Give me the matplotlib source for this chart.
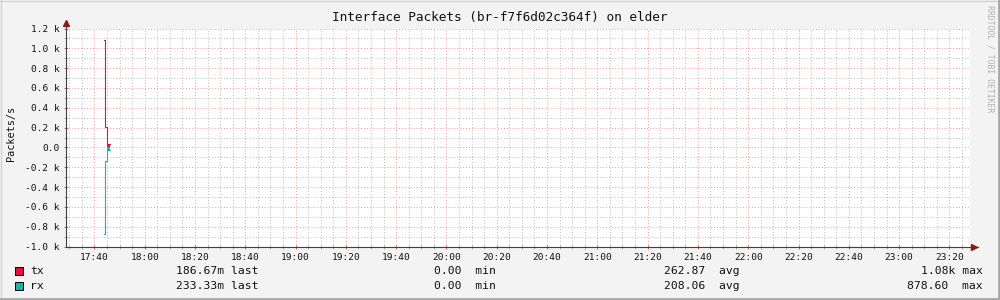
import numpy as np
import matplotlib
matplotlib.use("Agg")
import matplotlib.pyplot as plt
from matplotlib.lines import Line2D
from matplotlib.patches import Rectangle

## data (x = minutes after 17:40)
times = [3.9, 4.35, 5.2, 6.2]
tx = [1083, 210, 30]
rx = [-878.6, -140, -30]
tick_labels = ["17:40", "18:00", "18:20", "18:40", "19:00", "19:20", "19:40", "20:00", "20:20",
               "20:40", "21:00", "21:20", "21:40", "22:00", "22:20", "22:40", "23:00", "23:20"]
series_names = ["tx", "rx"]
series_colors = ["#DC143C", "#20B2AA"]
last_vals = ["186.67m last", "233.33m last"]
min_vals = ["0.00  min", "0.00  min"]
avg_vals = ["262.87  avg", "208.06  avg"]
max_vals = ["1.08k max", "878.60  max"]

mono = "DejaVu Sans Mono"
W, H = 1000, 300

fig = plt.figure(figsize=(10, 3), dpi=100, facecolor="#F3F3F3")
x0, x1, y0, y1 = 66, 970, 28.5, 246.5
ax = fig.add_axes([x0 / W, 1 - y1 / H, (x1 - x0) / W, (y1 - y0) / H])
ax.set_facecolor("white")
xmin, xmax = -11.3, 348.2
ax.set_xlim(xmin, xmax)
ax.set_ylim(-1000, 1200)

##grid
ax.set_xticks(np.arange(0, 341, 20))
ax.set_xticks(np.arange(-10, 350, 5), minor=True)
ax.set_yticks(np.arange(-1000, 1201, 200))
ax.set_yticks(np.arange(-1000, 1201, 100), minor=True)
ax.grid(which="minor", color="#BBBBBB", linestyle=(0, (1, 2)), lw=0.7)
ax.grid(which="major", color="#EE9999", linestyle=(0, (1, 2)), lw=0.7)
ax.set_axisbelow(True)

ax.set_xticklabels(tick_labels, family=mono, fontsize=6.8, color="#111111")
ylabs = ["0.0" if v == 0 else "%.1f k" % (v / 1000) for v in np.arange(-1000, 1201, 200)]
ax.set_yticklabels(ylabs, family=mono, fontsize=6.8, color="#111111")
ax.tick_params(which="major", axis="both", length=3, direction="inout", color="#C07070", pad=3)
ax.tick_params(which="minor", axis="both", length=3, direction="inout", color="#A0A0A0")

for s in ["top", "right"]:
    ax.spines[s].set_visible(False)
for s in ["left", "bottom"]:
    ax.spines[s].set_color("#404040")
    ax.spines[s].set_linewidth(0.8)

##axis arrows
ax.plot([xmin, xmin], [1200, 1280], color="#404040", lw=0.8, clip_on=False)
ax.plot([xmin], [1255], marker="^", ms=5, color="#8B1A1A", clip_on=False)
ax.plot([xmax, xmax + 3], [-1000, -1000], color="#404040", lw=0.8, clip_on=False)
ax.plot([xmax + 1.6], [-1000], marker=">", ms=5, color="#8B1A1A", clip_on=False)

##series
ax.step(times, tx + [tx[-1]], where="post", color=series_colors[0], lw=0.8)
ax.step(times, rx + [rx[-1]], where="post", color=series_colors[1], lw=0.8)
ax.fill_between(times[2:], 0, tx[2], color=series_colors[0], lw=0)
ax.fill_between(times[2:], 0, rx[2], color=series_colors[1], lw=0)

##texts
fig.text(0.4995, 1 - 18 / H, "Interface Packets (br-f7f6d02c364f) on elder",
         ha="center", va="center", family=mono, fontsize=9.2, color="#111111")
fig.text(11 / W, 1 - 133 / H, "Packets/s", rotation=90, ha="center", va="center",
         family=mono, fontsize=7.4, color="#111111")
fig.text(990 / W, 1 - 5 / H, "RRDTOOL / TOBI OETIKER", rotation=270, ha="center", va="top",
         family=mono, fontsize=5.9, color="#B0B0B0")

rows_y = [271, 286]
for i in range(2):
    yy = 1 - rows_y[i] / H
    fig.patches.append(Rectangle((15 / W, 1 - (rows_y[i] + 4) / H), 8 / W, 8 / H,
                                 transform=fig.transFigure, facecolor=series_colors[i],
                                 edgecolor="black", lw=0.7))
    fig.text(30 / W, yy, series_names[i], va="center", family=mono, fontsize=8.2, color="#111111")
    fig.text(258.7 / W, yy, last_vals[i], ha="right", va="center", family=mono, fontsize=8.2, color="#111111")
    fig.text(495.7 / W, yy, min_vals[i], ha="right", va="center", family=mono, fontsize=8.2, color="#111111")
    fig.text(739.3 / W, yy, avg_vals[i], ha="right", va="center", family=mono, fontsize=8.2, color="#111111")
    fig.text(983 / W, yy, max_vals[i], ha="right", va="center", family=mono, fontsize=8.2, color="#111111")

##frame
fig.add_artist(Line2D([0, 1], [1 - 0.5 / H, 1 - 0.5 / H], transform=fig.transFigure, color="#D4D4D4", lw=1))
fig.add_artist(Line2D([0.5 / W, 0.5 / W], [0, 1], transform=fig.transFigure, color="#D4D4D4", lw=1))
fig.add_artist(Line2D([0, 1], [1.5 / H, 1.5 / H], transform=fig.transFigure, color="#A8A8A8", lw=2))
fig.add_artist(Line2D([1 - 1.5 / W, 1 - 1.5 / W], [0, 1], transform=fig.transFigure, color="#A8A8A8", lw=2))

plt.savefig("out.png", dpi=100, facecolor=fig.get_facecolor())
